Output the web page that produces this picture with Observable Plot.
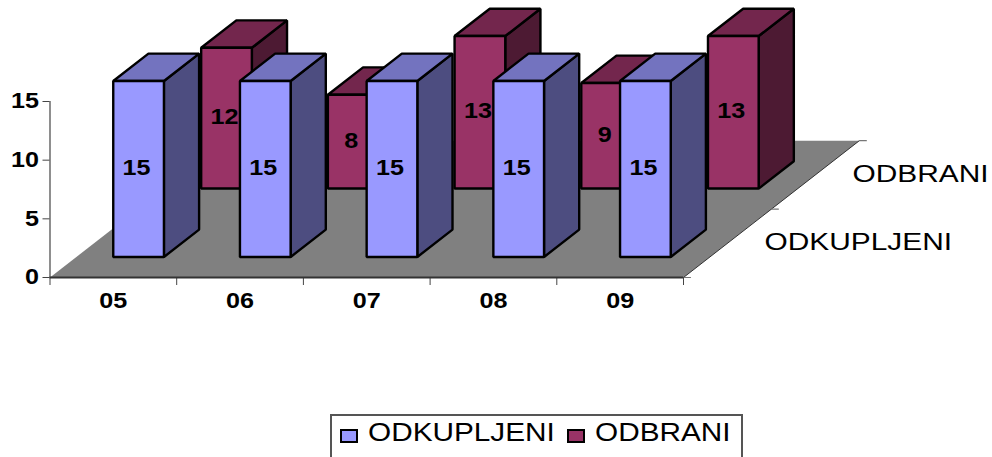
<!DOCTYPE html>
<html>
<head>
<meta charset="utf-8">
<script src="https://cdn.jsdelivr.net/npm/d3@7"></script>
<script src="https://cdn.jsdelivr.net/npm/@observablehq/plot@0.6"></script>
<style>
html,body{margin:0;padding:0;background:#fff;overflow:hidden;font-family:"Liberation Sans",Arial,sans-serif}
#legend{position:absolute;left:330px;top:414px;width:409px;height:60px;border:2px solid #555;box-sizing:content-box}
.sw{position:absolute;top:13px;width:14px;height:10px;border:2px solid #000}
.lb{position:absolute;top:0;font-size:25px;line-height:33px;transform:scaleX(1.19);transform-origin:left center;color:#000;white-space:nowrap}
</style>
</head>
<body>
<div id="chart"></div>
<div id="legend"></div>
<script>
const categories = ["05", "06", "07", "08", "09"];
const seriesNames = ["ODKUPLJENI", "ODBRANI"];
const odkupljeni = [15, 15, 15, 15, 15];
const odbrani = [12, 8, 13, 9, 13];
const yTicks = [0, 5, 10, 15];
const blueFaces = {front: "#9999ff", top: "#7373bf", side: "#4d4d80"};
const redFaces = {front: "#993366", top: "#73264d", side: "#4d1a33"};

// oblique projection: one step of depth moves right and up
const depthX = 0.694, depthY = 5.83;
const gapX = 0.291, gapZ = 0.3, size = 0.4;
const px = (c, d) => c + d * depthX;
const py = (v, d) => v + d * depthY;

function faces(values, s, colors) {
  const out = [];
  values.forEach((v, i) => {
    const x0 = i + gapX, x1 = x0 + size, d0 = s + gapZ, d1 = d0 + size;
    const add = (name, pts) => pts.forEach(([c, h, d]) =>
      out.push({x: px(c, d), y: py(h, d), face: `${s}-${i}-${name}`, color: colors[name]}));
    add("side", [[x1,0,d0],[x1,0,d1],[x1,v,d1],[x1,v,d0]]);
    add("top", [[x0,v,d0],[x1,v,d0],[x1,v,d1],[x0,v,d1]]);
    add("front", [[x0,0,d0],[x1,0,d0],[x1,v,d0],[x0,v,d0]]);
  });
  return out;
}
function labels(values, s) {
  return values.map((v, i) => ({
    x: px(i + gapX + size / 2, s + gapZ),
    y: py(v / 2, s + gapZ),
    text: String(v)
  }));
}
const n = categories.length;
const floor = [[0,0],[n,0],[n,2],[0,2]].map(([c,d]) => ({x: px(c,d), y: py(0,d)}));
const rightEdge = [[n,0],[n,2]].map(([c,d]) => ({x: px(c,d), y: py(0,d)}));
const depthTicks = [0,1,2].flatMap(d => [
  {x: px(n,d), y: py(0,d), k: d},
  {x: px(n,d) + 0.055, y: py(0,d), k: d}
]);
const depthLabels = seriesNames.map((name, s) => ({x: px(n, s + 0.5), y: py(0, s + 0.5), text: name}));

const faceMark = data => Plot.line(data, {
  x: "x", y: "y", z: "face", fill: "color", stroke: "#000", strokeWidth: 2.4,
  curve: "linear-closed", strokeLinejoin: "miter"
});
const labelMark = data => Plot.text(data, {
  x: "x", y: "y", text: "text", dx: -2, dy: -1, fontSize: 21.5, fontWeight: "bold", fill: "#000"
});

const plot = Plot.plot({
  width: 992, height: 414,
  marginLeft: 49.5, marginRight: 309, marginTop: 101, marginBottom: 137,
  x: {domain: [0, n], axis: null},
  y: {domain: [0, 15], axis: null},
  style: {fontFamily: "'Liberation Sans', Arial, sans-serif", background: "transparent"},
  marks: [
    Plot.line(floor, {x: "x", y: "y", fill: "#808080", stroke: "none", curve: "linear-closed"}),
    Plot.line(rightEdge, {x: "x", y: "y", stroke: "#333", strokeWidth: 1}),
    Plot.line(depthTicks, {x: "x", y: "y", z: "k", stroke: "#777", strokeWidth: 1.2}),
    Plot.ruleX([0], {y1: 0, y2: 15, stroke: "#444", strokeWidth: 1.2}),
    Plot.axisY({anchor: "left", ticks: yTicks, tickSize: 7, tickPadding: 4, label: null,
      fontSize: 21.5, fontWeight: "bold", stroke: "#444", fill: "#000"}),
    Plot.axisX({anchor: "bottom", ticks: d3.range(n + 1), tickSize: 8, tickFormat: () => "", label: null, stroke: "#444"}),
    Plot.axisX({anchor: "bottom", ticks: categories.map((c, i) => i + 0.5), tickSize: 0, tickPadding: 15,
      tickFormat: t => categories[t - 0.5], label: null, fontSize: 21.5, fontWeight: "bold", fill: "#000"}),
    faceMark(faces(odbrani, 1, redFaces)),
    labelMark(labels(odbrani, 1)),
    faceMark(faces(odkupljeni, 0, blueFaces)),
    labelMark(labels(odkupljeni, 0)),
    Plot.ruleY([0], {stroke: "#333", strokeWidth: 2}),
    Plot.text(depthLabels, {x: "x", y: "y", text: "text", dx: 37, dy: -1, textAnchor: "start", fontSize: 24.5, fill: "#000"})
  ]
});
// the reference is stretched sideways: widen every text about its own anchor
plot.querySelectorAll("text").forEach(t => {
  const bold = t.closest("[font-weight]") || t.getAttribute("font-weight");
  const k = bold ? 1.17 : 1.22;
  t.setAttribute("transform", (t.getAttribute("transform") || "") + ` scale(${k},1)`);
});
document.getElementById("chart").appendChild(plot);

const legend = document.getElementById("legend");
const swatchLeft = [8, 235], textLeft = [36, 263];
seriesNames.forEach((name, s) => {
  const sw = document.createElement("div");
  sw.className = "sw";
  sw.style.left = swatchLeft[s] + "px";
  sw.style.background = [blueFaces, redFaces][s].front;
  const lb = document.createElement("div");
  lb.className = "lb";
  lb.style.left = textLeft[s] + "px";
  lb.textContent = name;
  legend.append(sw, lb);
});
</script>
</body>
</html>
